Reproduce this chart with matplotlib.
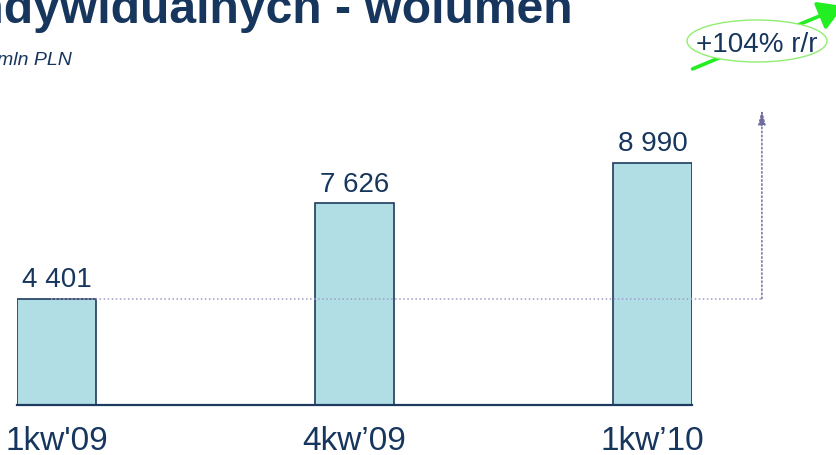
import matplotlib
matplotlib.use("Agg")
import matplotlib.pyplot as plt
from matplotlib.patches import Ellipse, FancyArrowPatch

# ---- data ----
categories = ["1kw'09", "4kw\u201909", "1kw\u201910"]
values = [4401, 7626, 8990]
growth_label = "+104% r/r"
title_text = "indywidualnych - wolumen"
unit_text = "mln PLN"

W, H = 836, 456
fig = plt.figure(figsize=(W / 100, H / 100), dpi=100)
plt.rcParams['font.family'] = ['Liberation Sans', 'DejaVu Sans']

navy = '#17365d'
bar_fill = '#b1dee4'
bar_edge = '#1f3a5f'

# axes placement in pixels
ax_left, ax_right = 17, 692
ax_bottom_px, ax_top_px = 406, 104
ax = fig.add_axes([ax_left / W, 1 - ax_bottom_px / H,
                   (ax_right - ax_left) / W, (ax_bottom_px - ax_top_px) / H])

x = list(range(len(values)))
bw = 0.265
ax.bar(x, values, width=bw, color=bar_fill, edgecolor=bar_edge, linewidth=1.2, zorder=3)
ax.set_xlim(-bw / 2, len(values) - 1 + bw / 2)
ax.set_ylim(817, 11000)

for s in ['top', 'right', 'left']:
    ax.spines[s].set_visible(False)
ax.spines['bottom'].set_color(bar_edge)
ax.spines['bottom'].set_linewidth(1.6)
ax.spines['bottom'].set_zorder(4)
ax.set_yticks([])
ax.set_xticks(x)
ax.set_xticklabels(categories, fontsize=24, color=navy)
ax.tick_params(axis='x', length=0, pad=14.5)

for xi, v in zip(x, values):
    ax.annotate(f"{v:,}".replace(',', ' '), (xi, v), xytext=(0, 9),
                textcoords='offset points', ha='center', va='baseline',
                fontsize=20, color=navy, zorder=5)

# dotted reference line from first bar to the right and upward arrow
line_col = '#a09cc8'
x_end = len(values) - 1 + 0.367
y_top = max(values) * 1.2
ax.plot([-0.02, x_end], [values[0], values[0]], linestyle=':', color=line_col,
        linewidth=1.1, clip_on=False, zorder=6)
ax.annotate('', xy=(x_end, y_top), xytext=(x_end, values[0]),
            arrowprops=dict(arrowstyle='-|>,head_length=0.9,head_width=0.22',
                            color='#6f6c9e', linestyle=':', lw=1.1,
                            shrinkA=0, shrinkB=0),
            annotation_clip=False)

# green growth arrow with ellipse label
fig.patches.append(FancyArrowPatch(
    (690 / W, 1 - 71 / H), (846 / W, 1 - 6 / H), transform=fig.transFigure,
    arrowstyle='-|>,head_length=10,head_width=6', color='#22ee22', lw=2.6,
    mutation_scale=1.5, zorder=1))
ell = Ellipse((757 / W, 1 - 42 / H), 140 / W, 42 / H, transform=fig.transFigure,
              facecolor='white', edgecolor='#90ee70', lw=1.0, zorder=2)
fig.patches.append(ell)
fig.text(696 / W, 1 - 52 / H, growth_label, fontsize=20, color=navy,
         ha='left', va='baseline', zorder=3)

# title (cropped) and unit
fig.text(573 / W, 1 - 23 / H, title_text, fontsize=34.6, fontweight='bold',
         color=navy, ha='right', va='baseline')
fig.text(-3 / W, 1 - 65 / H, unit_text, fontsize=14, fontstyle='italic',
         color=navy, ha='left', va='baseline')

fig.savefig('out.png', dpi=100)
